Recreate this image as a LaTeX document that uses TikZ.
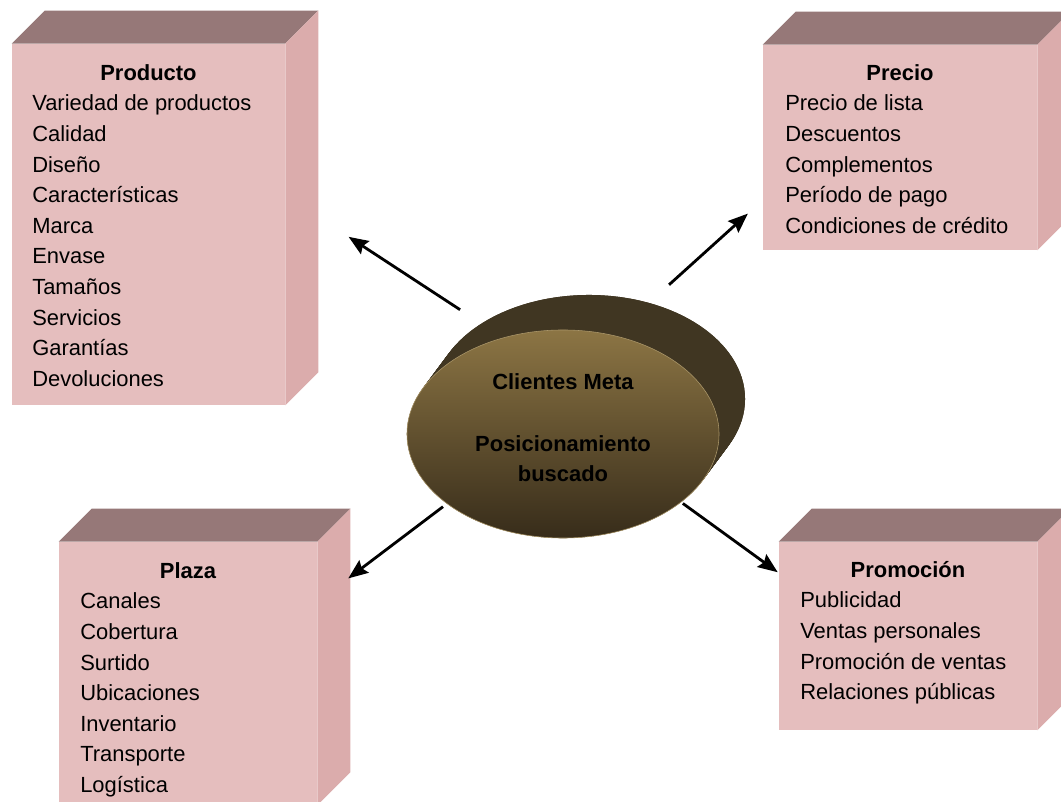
\documentclass[tikz,border=0pt]{standalone}
\usepackage{fontspec}
\setmainfont{Liberation Sans}
\usetikzlibrary{positioning,arrows.meta,shapes.geometric,calc}

\definecolor{rosaFrente}{RGB}{229,190,190}
\definecolor{rosaTapa}{RGB}{150,120,120}
\definecolor{rosaLado}{RGB}{219,172,172}
\definecolor{olivaClaro}{RGB}{140,117,68}
\definecolor{olivaMedio}{RGB}{110,92,54}
\definecolor{olivaOscuro}{RGB}{55,44,26}
\definecolor{olivaFondo}{RGB}{64,54,34}
\definecolor{olivaBorde}{RGB}{170,150,105}

\begin{document}
\begin{tikzpicture}[x=0.025cm, y=-0.025cm,
    cara/.style={rectangle, fill=rosaFrente, inner sep=0pt},
    tapa/.style={fill=rosaTapa},
    lado/.style={fill=rosaLado},
    titulo/.style={inner sep=0pt, anchor=base, font=\fontsize{15.6}{21.8}\selectfont\bfseries},
    lista/.style={inner sep=0pt, anchor=base west, font=\fontsize{15.6}{21.8}\selectfont},
    fondo/.style={ellipse, fill=olivaFondo, minimum width=7.8cm, minimum height=5.2cm, inner sep=0pt},
    frente/.style={ellipse, top color=olivaClaro, middle color=olivaMedio, bottom color=olivaOscuro,
                   draw=olivaBorde, line width=0.4pt, minimum width=7.8cm, minimum height=5.2cm, inner sep=0pt},
    centro/.style={align=center, inner sep=0pt, font=\fontsize{15.6}{21.8}\selectfont\bfseries},
    flecha/.style={-{Stealth[length=14pt,width=11pt,inset=2pt]}, line width=2pt, black},
]
\clip (0,0) rectangle (1061,802);

% ===== CAJAS =====
\node[cara, minimum width=6.825cm, minimum height=9.025cm] (producto) at (148.5,224.5) {};
\node[cara, minimum width=6.85cm, minimum height=5.125cm] (precio) at (900,147.5) {};
\node[cara, minimum width=6.45cm, minimum height=6.575cm] (plaza) at (188,673.5) {};
\node[cara, minimum width=6.45cm, minimum height=4.7cm] (promo) at (908,636) {};

\foreach \c in {producto,precio,plaza,promo} {
  \fill[tapa] (\c.north west) -- ++(33,-33) -- ([shift={(33,-33)}]\c.north east) -- (\c.north east) -- cycle;
  \fill[lado] (\c.north east) -- ++(33,-33) -- ([shift={(33,-33)}]\c.south east) -- (\c.south east) -- cycle;
}

\node[titulo] (producto-tit) at (148.5,80) {Producto};
\node[lista] (producto-txt) at (32,110.7) {\begin{tabular}[t]{@{}l@{}}
  Variedad de productos\\ Calidad\\ Diseño\\ Características\\ Marca\\
  Envase\\ Tamaños\\ Servicios\\ Garantías\\ Devoluciones
\end{tabular}};
\node[titulo] (precio-tit) at (900,80) {Precio};
\node[lista] (precio-txt) at (785,110.7) {\begin{tabular}[t]{@{}l@{}}
  Precio de lista\\ Descuentos\\ Complementos\\ Período de pago\\ Condiciones de crédito
\end{tabular}};
\node[titulo] (plaza-tit) at (188,578) {Plaza};
\node[lista] (plaza-txt) at (80,608.7) {\begin{tabular}[t]{@{}l@{}}
  Canales\\ Cobertura\\ Surtido\\ Ubicaciones\\ Inventario\\ Transporte\\ Logística
\end{tabular}};
\node[titulo] (promo-tit) at (908,577) {Promoción};
\node[lista] (promo-txt) at (800,607.7) {\begin{tabular}[t]{@{}l@{}}
  Publicidad\\ Ventas personales\\ Promoción de ventas\\ Relaciones públicas
\end{tabular}};

% ===== CENTRO =====
\foreach \k in {0,...,26}
  \node[fondo] at (563+\k, 434-35*\k/26) {};
\node[fondo] (cmfondo) at (589,399) {};
\node[frente] (cm) at (563,434) {};
\node[centro] (cm-txt) at (563,428) {Clientes Meta\\[21.8pt]Posicionamiento\\buscado};

% ===== FLECHAS =====
\draw[flecha, shorten <=0.63cm, shorten >=1.89cm] (cmfondo.145) -- (producto.12);
\draw[flecha, shorten <=0.67cm, shorten >=0.5cm] (cmfondo.58) -- (precio.201);
\draw[flecha, shorten <=0.12cm, shorten >=0.97cm] (cm.211) -- (plaza.29);
\draw[flecha, shorten <=0.05cm, shorten >=0.03cm] (cm.330) -- (promo.154);

\end{tikzpicture}
\end{document}
